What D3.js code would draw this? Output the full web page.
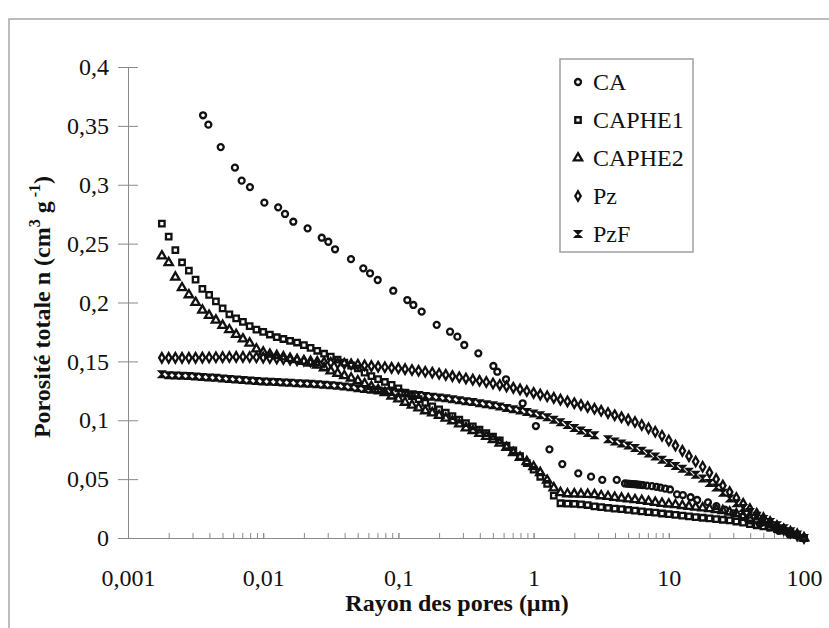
<!DOCTYPE html>
<html><head><meta charset="utf-8">
<script src="https://cdn.jsdelivr.net/npm/d3@7"></script>
<style>
body{margin:0;background:#fff}svg{display:block}
svg text{font-family:"Liberation Serif","Times New Roman",Times,serif !important;}
</style>
</head><body>
<script>
// Pore radius (µm) shared by CAPHE1, CAPHE2, Pz, PzF
const radius = [0.00178,0.002,0.00224,0.00251,0.00282,0.00316,0.00355,0.00398,0.00447,0.00501,0.00562,0.00631,0.00708,0.00794,0.00891,
0.01,0.0112,0.0126,0.0141,0.0158,0.0178,0.02,0.0224,0.0251,0.0282,0.0316,0.0355,0.0398,0.0447,0.0501,0.0562,0.0631,0.0708,0.0794,0.0891,
0.1,0.112,0.126,0.141,0.158,0.178,0.2,0.224,0.251,0.282,0.316,0.355,0.398,0.447,0.501,0.562,0.631,0.708,0.794,0.891,
1,1.12,1.26,1.41,1.58,1.78,2,2.24,2.51,2.82,3.16,3.55,3.98,4.47,5.01,5.62,6.31,7.08,7.94,8.91,
10,11.2,12.6,14.1,15.8,17.8,20,22.4,25.1,28.2,31.6,35.5,39.8,44.7,50.1,56.2,63.1,70.8,79.4,89.1,100];

const caphe1 = [0.267,0.256,0.2445,0.234,0.227,0.2195,0.2115,0.2065,0.201,0.195,0.19,0.1865,0.1835,0.18,0.177,
0.175,0.1728,0.1705,0.169,0.1675,0.166,0.1638,0.1615,0.159,0.1565,0.154,0.1515,0.149,0.1465,0.144,0.1405,0.1375,0.135,0.1325,0.13,
0.127,0.1235,0.1205,0.118,0.1148,0.1118,0.1092,0.1065,0.1035,0.1005,0.0975,0.0948,0.092,0.089,0.086,0.083,0.0785,0.0745,0.0695,0.0635,
0.058,0.052,0.046,0.036,0.0295,0.0292,0.029,0.0285,0.028,0.0268,0.0262,0.0255,0.025,0.0245,0.0238,0.0232,0.0226,0.022,0.0215,0.0208,
0.0202,0.0196,0.019,0.0184,0.0178,0.0172,0.0166,0.016,0.0155,0.015,0.014,0.013,0.0118,0.0108,0.0098,0.0088,0.0075,0.0062,0.0048,0.0025,0];

const caphe2 = [0.2395,0.2338,0.2215,0.2125,0.2065,0.2,0.1935,0.189,0.185,0.1805,0.1768,0.1728,0.169,0.1655,0.1605,
0.1578,0.156,0.1548,0.1538,0.1525,0.1515,0.15,0.1485,0.1468,0.1445,0.1418,0.1398,0.1378,0.1358,0.1335,0.131,0.1285,0.126,0.1235,0.1205,
0.118,0.1152,0.1128,0.1105,0.108,0.1062,0.104,0.1018,0.0995,0.0968,0.0935,0.0912,0.0888,0.0862,0.0835,0.0805,0.0768,0.0725,0.0685,0.0648,
0.0605,0.0555,0.049,0.0425,0.0385,0.0375,0.0374,0.0372,0.037,0.0368,0.0358,0.0352,0.0345,0.0338,0.0332,0.0325,0.0318,0.031,0.0302,0.0294,
0.0288,0.0282,0.0275,0.0268,0.0262,0.0255,0.0248,0.024,0.0232,0.022,0.0205,0.0188,0.0168,0.0148,0.0128,0.011,0.009,0.0072,0.0052,0.003,0];

const pz = [0.153,0.153,0.153,0.153,0.153,0.153,0.1532,0.1533,0.1535,0.1536,0.1537,0.1538,0.1538,0.1537,0.1535,
0.1532,0.1528,0.1524,0.152,0.1515,0.151,0.1505,0.15,0.1496,0.1492,0.1488,0.1484,0.148,0.1476,0.1472,0.1466,0.146,0.1455,0.145,0.1445,
0.1441,0.1434,0.1427,0.142,0.1412,0.1404,0.1395,0.1385,0.1375,0.1365,0.1355,0.1345,0.1335,0.1325,0.1312,0.13,0.1288,0.1275,0.1262,0.1248,
0.1232,0.1218,0.1204,0.119,0.1175,0.116,0.1145,0.113,0.1113,0.1097,0.108,0.1062,0.1043,0.1025,0.1005,0.0985,0.096,0.0932,0.0902,0.0868,
0.0828,0.0785,0.074,0.0695,0.065,0.0605,0.0555,0.05,0.0445,0.039,0.034,0.029,0.0245,0.0205,0.017,0.0135,0.0102,0.0072,0.0045,0.0022,0];

const pzf = [0.139,0.1382,0.138,0.1378,0.1375,0.1372,0.1368,0.1364,0.136,0.1355,0.135,0.1346,0.1342,0.1338,0.1334,
0.133,0.1327,0.1324,0.1321,0.1318,0.1315,0.1312,0.1309,0.1305,0.1302,0.1298,0.1293,0.1287,0.128,0.1272,0.1265,0.1258,0.1252,0.1246,0.124,
0.1235,0.1228,0.1221,0.1214,0.1207,0.12,0.1193,0.1186,0.1178,0.117,0.1162,0.1154,0.1145,0.1136,0.1127,0.1116,0.1105,0.1094,0.1082,0.107,
0.1057,0.1043,0.1025,0.1005,0.0982,0.096,0.0935,0.0912,0.0892,0.0872,null,0.0838,0.082,0.0802,0.0785,0.0765,0.0742,0.0718,0.0692,0.0665,
0.0638,0.0612,0.0588,0.0562,0.0538,0.0505,0.0468,0.0428,0.0385,0.0335,0.0295,0.0255,0.022,0.019,0.0162,0.0135,0.0108,0.0082,0.0058,0.003,0];

// CA has its own radius steps
const caRadius = [0.00359,0.00393,0.00485,0.00618,0.00693,0.00798,0.0102,0.0129,0.0145,0.0167,0.0213,0.0271,0.0303,0.034,0.0446,0.055,0.0617,0.0703,0.0916,
0.1164,0.129,0.1486,0.192,0.241,0.273,0.307,0.39,0.504,0.539,0.625,0.83,1.04,1.31,1.63,2.14,2.66,3.22,4.12,
4.74,4.95,5.15,5.35,5.55,5.75,5.95,6.2,6.44,6.9,7.5,8.1,8.7,9.4,10.2,
11.5,12.7,14.5,16.2,19.5,22.5,26,30,35,40,47,55,65,78,100];
const caValues = [0.359,0.351,0.332,0.3145,0.3035,0.298,0.2848,0.2808,0.2752,0.2686,0.263,0.255,0.2516,0.2452,0.2369,0.229,0.2248,0.2191,0.21,
0.2021,0.1979,0.1922,0.181,0.1752,0.171,0.1639,0.1568,0.1461,0.1412,0.1348,0.1144,0.0951,0.0753,0.0628,0.0549,0.0521,0.0493,0.0493,
0.0463,0.0461,0.046,0.0458,0.0457,0.0455,0.0454,0.0452,0.045,0.0445,0.044,0.0435,0.0428,0.042,0.0412,
0.0371,0.0365,0.0346,0.0323,0.0303,0.027,0.024,0.021,0.018,0.015,0.012,0.009,0.006,0.003,0];

const seriesNames = ["CA","CAPHE1","CAPHE2","Pz","PzF"];
const xTickValues = [0.001,0.01,0.1,1,10,100];
const xTickLabels = ["0,001","0,01","0,1","1","10","100"];
const yTickValues = [0,0.05,0.1,0.15,0.2,0.25,0.3,0.35,0.4];
const yTickLabels = ["0","0,05","0,1","0,15","0,2","0,25","0,3","0,35","0,4"];

const W = 829, H = 628;
const FONT = '"Liberation Serif","Times New Roman",Times,serif';
const svg = d3.select("body").append("svg").attr("width", W).attr("height", H)
  .attr("font-family", FONT);
svg.append("rect").attr("width", W).attr("height", H).attr("fill", "#fff");
// outer frame
svg.append("rect").attr("x", 9).attr("y", 19).attr("width", 900).attr("height", 700)
  .attr("fill", "none").attr("stroke", "#a8a8a8").attr("stroke-width", 1.5);

const x = d3.scaleLog().domain([0.001, 100]).range([128, 804]);
const y = d3.scaleLinear().domain([0, 0.4]).range([538, 67]);
const axisColor = "#8a8a8a";
const ink = "#111";

// Y axis
const yAxis = svg.append("g").attr("transform", "translate(128,0)")
  .call(d3.axisLeft(y).tickValues(yTickValues).tickSize(10).tickPadding(9)
    .tickFormat((d, i) => yTickLabels[i]));
yAxis.attr("font-family", FONT);
yAxis.select(".domain").attr("stroke", axisColor);
yAxis.selectAll(".tick line").attr("stroke", axisColor);
yAxis.selectAll(".tick").append("line").attr("x1", 0).attr("x2", 10).attr("stroke", axisColor);
yAxis.selectAll("text").attr("font-size", 24).attr("fill", ink);

// X axis: minor ticks pointing up
const minorTicks = [];
xTickValues.slice(0, -1).forEach(d => { for (let k = 1; k <= 10; k++) minorTicks.push(d * k); });
const xAxis = svg.append("g").attr("transform", "translate(0,538)")
  .call(d3.axisBottom(x).tickValues(minorTicks).tickSize(-5).tickSizeOuter(0).tickFormat(""));
xAxis.select(".domain").attr("stroke", axisColor);
xAxis.selectAll(".tick line").attr("stroke", axisColor);
const xLab = svg.append("g").attr("transform", "translate(0,538)")
  .call(d3.axisBottom(x).tickValues(xTickValues).tickSize(0).tickPadding(31)
    .tickFormat((d, i) => xTickLabels[i]));
xLab.attr("font-family", FONT);
xLab.select(".domain").remove();
xLab.selectAll("text").attr("font-size", 24).attr("fill", ink);

// Axis titles
svg.append("text").attr("x", 457).attr("y", 611).attr("text-anchor", "middle")
  .attr("font-size", 24).attr("font-weight", "bold").attr("fill", ink)
  .text("Rayon des pores (µm)");
const yt = svg.append("text").attr("transform", "translate(50,307) rotate(-90)")
  .attr("text-anchor", "middle").attr("font-size", 24).attr("font-weight", "bold").attr("fill", ink);
yt.append("tspan").text("Porosité totale n (cm");
yt.append("tspan").attr("dy", -10).attr("font-size", 16).text("3");
yt.append("tspan").attr("dy", 10).text(" g");
yt.append("tspan").attr("dy", -10).attr("font-size", 16).text(" -1");
yt.append("tspan").attr("dy", 10).text(")");

// Marker shapes
const hourglass = "M-3.2,-3.2L3.2,-3.2L-3.2,3.2L3.2,3.2Z";
const shapes = {
  CA: d3.symbol(d3.symbolCircle, 28)(),
  CAPHE1: d3.symbol(d3.symbolSquare, 30)(),
  CAPHE2: d3.symbol(d3.symbolTriangle, 30)(),
  Pz: d3.symbol(d3.symbolDiamond, 26)(),
  PzF: hourglass
};
const seriesData = {
  CA: caRadius.map((r, i) => [r, caValues[i]]),
  CAPHE1: radius.map((r, i) => [r, caphe1[i]]),
  CAPHE2: radius.map((r, i) => [r, caphe2[i]]),
  Pz: radius.map((r, i) => [r, pz[i]]),
  PzF: radius.map((r, i) => [r, pzf[i]])
};
seriesNames.forEach(name => {
  svg.append("g").selectAll("path")
    .data(seriesData[name].filter(d => d[1] != null))
    .join("path")
    .attr("d", shapes[name])
    .attr("transform", d => `translate(${x(d[0])},${y(d[1])})`)
    .attr("fill", name === "PzF" ? ink : "none")
    .attr("stroke", ink).attr("stroke-width", name === "PzF" ? 1.6 : 2.3);
});

// Legend
const lg = svg.append("g");
lg.append("rect").attr("x", 560).attr("y", 59).attr("width", 133).attr("height", 193)
  .attr("fill", "#fff").attr("stroke", "#a0a0a0").attr("stroke-width", 1.5);
seriesNames.forEach((name, i) => {
  const by = 90 + i * 38;
  lg.append("path").attr("d", shapes[name]).attr("transform", `translate(578,${by - 8})`)
    .attr("fill", name === "PzF" ? ink : "none").attr("stroke", ink)
    .attr("stroke-width", name === "PzF" ? 1.6 : 2.3);
  lg.append("text").attr("x", 593).attr("y", by).attr("font-size", 24).attr("fill", ink).text(name);
});
</script>
</body></html>
